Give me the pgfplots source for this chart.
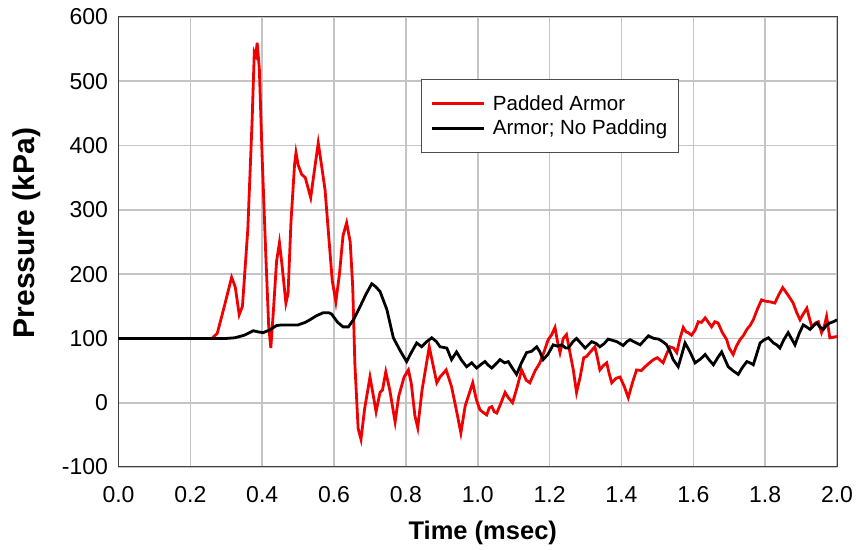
\documentclass[border=0pt]{standalone}
\usepackage{pgfplots}
\pgfplotsset{compat=1.18}
\usepackage{fontspec}
\setmainfont{Liberation Sans}
\usetikzlibrary{calc}
\definecolor{gridgray}{RGB}{196,196,196}
\definecolor{pred}{RGB}{240,0,0}
\begin{document}
\begin{tikzpicture}
\begin{axis}[
  scale only axis,
  width=718.5pt, height=450pt,
  xmin=0, xmax=2, ymin=-100, ymax=600,
  xtick={0,0.2,0.4,0.6,0.8,1.0,1.2,1.4,1.6,1.8,2.0}, ytick={-100,0,...,600},
  major tick length=0pt,
  xmajorgrids, ymajorgrids,
  grid style={draw=gridgray, line width=1.6pt},
  major grid style={draw=gridgray, line width=1.6pt},
  axis line style={draw=black!75, line width=1pt},
  /pgf/number format/assume math mode=true,
  xticklabel style={/pgf/number format/.cd, fixed, fixed zerofill, precision=1, /tikz/.cd, font=\fontsize{23}{26}\selectfont, yshift=-16pt},
  yticklabel style={font=\fontsize{23}{26}\selectfont, xshift=-7pt},
  scaled ticks=false,
  xlabel={Time (msec)}, ylabel={Pressure (kPa)},
  xlabel style={font=\fontsize{25.5}{28}\selectfont\bfseries, at={(axis description cs:0.507,-0.1467)}, anchor=center},
  ylabel style={font=\fontsize{30}{32}\selectfont\bfseries, at={(axis description cs:-0.1273,0.52)}, anchor=center},
  legend style={at={(axis description cs:0.4206,0.862)}, anchor=north west, draw=black!70, line width=1pt, fill=white,
    font=\fontsize{20.5}{22}\selectfont, inner xsep=9pt, inner ysep=14pt, row sep=4pt,
    cells={anchor=west}},
  legend image code/.code={\draw[#1, line width=2.8pt] (0pt,0pt) -- (52pt,0pt); \path (58pt,0pt);},
]
\addplot[pred, line width=2.8pt] coordinates {
(0,100) (0.26,100) (0.275,108) (0.29,140) (0.315,195) (0.325,180) (0.336,137) (0.345,150) (0.36,270) (0.372,440) (0.378,545) (0.382,540) (0.386,560) (0.392,520) (0.40,380) (0.41,230) (0.418,120) (0.424,85) (0.432,150) (0.44,220) (0.448,249) (0.455,215) (0.466,155) (0.472,170) (0.48,280) (0.49,370) (0.494,389) (0.50,370) (0.51,355) (0.52,350) (0.535,319) (0.545,360) (0.556,404) (0.565,370) (0.575,331) (0.585,260) (0.595,190) (0.605,157) (0.615,200) (0.625,260) (0.635,280) (0.645,250) (0.652,180) (0.658,60) (0.667,-40) (0.675,-57) (0.685,-10) (0.70,40) (0.708,15) (0.717,-14) (0.728,16) (0.735,20) (0.744,48) (0.755,20) (0.77,-30) (0.78,10) (0.795,40) (0.807,51) (0.815,30) (0.825,-20) (0.833,-39) (0.845,20) (0.865,87) (0.875,60) (0.886,31) (0.895,40) (0.912,51) (0.927,25) (0.94,-10) (0.953,-47) (0.965,-5) (0.986,31) (0.996,5) (1.006,-11) (1.015,-15) (1.025,-19) (1.032,-8) (1.039,-6) (1.046,-14) (1.053,-16) (1.065,0) (1.076,16) (1.085,8) (1.097,0) (1.11,25) (1.122,51) (1.135,35) (1.145,31) (1.16,50) (1.173,62) (1.185,80) (1.196,98) (1.205,105) (1.215,117) (1.222,95) (1.229,78) (1.238,100) (1.247,106) (1.256,80) (1.266,51) (1.275,16) (1.285,40) (1.295,70) (1.303,72) (1.315,80) (1.326,87) (1.333,70) (1.34,51) (1.35,58) (1.359,62) (1.366,45) (1.373,31) (1.385,38) (1.396,40) (1.408,25) (1.419,8) (1.43,30) (1.442,51) (1.455,50) (1.466,56) (1.478,62) (1.489,67) (1.50,70) (1.516,62) (1.525,75) (1.535,87) (1.545,85) (1.554,78) (1.563,100) (1.572,117) (1.58,110) (1.586,109) (1.595,105) (1.605,113) (1.614,126) (1.623,125) (1.633,132) (1.642,125) (1.651,118) (1.66,126) (1.669,124) (1.68,110) (1.693,98) (1.70,85) (1.711,75) (1.72,88) (1.73,98) (1.74,105) (1.749,114) (1.758,120) (1.767,129) (1.778,145) (1.79,160) (1.80,158) (1.813,157) (1.827,155) (1.838,168) (1.849,179) (1.858,172) (1.869,163) (1.878,155) (1.888,140) (1.897,129) (1.906,138) (1.916,147) (1.923,132) (1.93,118) (1.94,124) (1.948,126) (1.957,109) (1.965,120) (1.971,134) (1.98,101) (1.99,102) (2.0,103)
};
\addlegendentry{Padded Armor}
\addplot[black, line width=2.8pt] coordinates {
(0,100) (0.27,100) (0.30,100) (0.324,101) (0.35,105) (0.375,112) (0.39,110) (0.403,109) (0.42,113) (0.44,120) (0.454,121) (0.48,121) (0.50,121) (0.52,125) (0.533,129) (0.55,135) (0.57,140) (0.585,140) (0.593,138) (0.61,125) (0.625,118) (0.64,118) (0.655,130) (0.672,149) (0.69,170) (0.705,185) (0.715,181) (0.728,173) (0.747,145) (0.765,101) (0.785,80) (0.802,64) (0.815,78) (0.83,93) (0.844,87) (0.858,95) (0.872,101) (0.885,95) (0.895,87) (0.914,85) (0.927,67) (0.941,79) (0.955,66) (0.969,56) (0.983,62) (0.997,54) (1.01,60) (1.02,64) (1.03,58) (1.039,54) (1.05,60) (1.062,67) (1.075,62) (1.085,64) (1.095,55) (1.108,44) (1.12,60) (1.136,78) (1.15,80) (1.164,87) (1.172,80) (1.182,67) (1.195,75) (1.21,90) (1.222,88) (1.234,90) (1.245,85) (1.252,85) (1.265,95) (1.275,100) (1.288,92) (1.299,85) (1.317,95) (1.33,92) (1.34,87) (1.352,92) (1.363,99) (1.375,97) (1.387,95) (1.405,89) (1.415,95) (1.424,98) (1.438,94) (1.452,90) (1.465,98) (1.475,104) (1.49,100) (1.503,99) (1.515,95) (1.526,90) (1.535,80) (1.544,67) (1.558,56) (1.568,75) (1.577,93) (1.59,80) (1.605,62) (1.62,68) (1.633,75) (1.645,66) (1.656,59) (1.668,70) (1.679,79) (1.69,65) (1.697,56) (1.71,50) (1.725,44) (1.737,55) (1.749,64) (1.758,62) (1.767,59) (1.776,75) (1.786,93) (1.798,98) (1.809,101) (1.823,93) (1.832,90) (1.841,85) (1.852,98) (1.864,109) (1.875,98) (1.883,90) (1.895,108) (1.906,121) (1.915,118) (1.925,114) (1.935,120) (1.944,124) (1.952,118) (1.962,114) (1.97,120) (1.98,124) (1.99,126) (2.0,129)
};
\addlegendentry{Armor; No Padding}
\end{axis}
\pgfresetboundingbox
\path ($(current axis.south west)+(-118.5pt,-83pt)$) rectangle ($(current axis.north east)+(22pt,17pt)$);
\end{tikzpicture}
\end{document}
